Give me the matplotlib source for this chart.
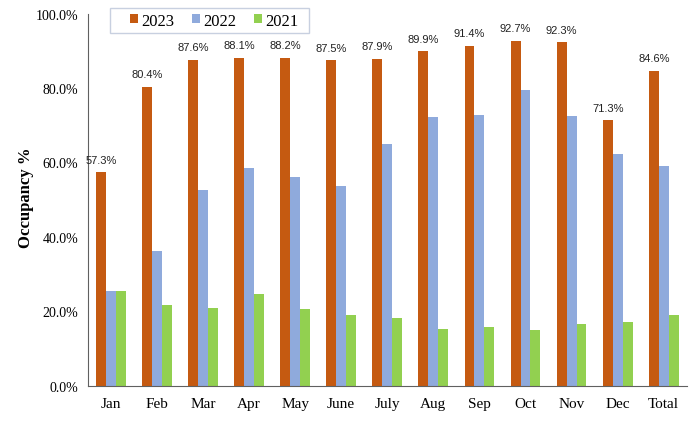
import matplotlib
matplotlib.use("Agg")
import matplotlib.pyplot as plt
from matplotlib.patches import Rectangle
import numpy as np

categories = ["Jan", "Feb", "Mar", "Apr", "May", "June", "July", "Aug", "Sep", "Oct", "Nov", "Dec", "Total"]
y2023 = [57.3, 80.4, 87.6, 88.1, 88.2, 87.5, 87.9, 89.9, 91.4, 92.7, 92.3, 71.3, 84.6]
y2022 = [25.5, 36.3, 52.5, 58.5, 56.2, 53.7, 64.9, 72.1, 72.7, 79.5, 72.4, 62.2, 59.1]
y2021 = [25.5, 21.7, 20.8, 24.6, 20.5, 19.0, 18.1, 15.2, 15.8, 15.0, 16.6, 17.1, 19.1]
series_names = ["2023", "2022", "2021"]
colors = ["#C55A11", "#8FAADC", "#92D050"]

W, H = 699, 431
fig = plt.figure(figsize=(6.99, 4.31), dpi=100)
ax = fig.add_axes([0.1255, 0.103, 0.857, 0.863])

x = np.arange(len(categories))
w = 0.215
for i, (vals, name, c) in enumerate(zip([y2023, y2022, y2021], series_names, colors)):
    ax.bar(x + (i - 1) * w, vals, w, color=c, label=name)
    if i == 0:
        for xi, v in zip(x + (i - 1) * w, vals):
            ax.text(xi, v + 2.0, f"{v:.1f}%", ha="center", va="bottom",
                    fontsize=8, family="Liberation Sans", color="#222222")

ax.set_xlim(-0.5, len(categories) - 0.5)
ax.set_ylim(0, 100)
ax.set_yticks(np.arange(0, 101, 20))
ax.set_yticklabels([f"{v:.1f}%" for v in np.arange(0, 101, 20)], family="Liberation Serif", fontsize=10)
ax.set_xticks(x)
ax.set_xticklabels(categories, family="Liberation Serif", fontsize=11)
ax.tick_params(axis="x", length=0, pad=8)
ax.tick_params(axis="y", length=0, pad=7)
for s in ["top", "right"]:
    ax.spines[s].set_visible(False)
for s in ["left", "bottom"]:
    ax.spines[s].set_color("#606060")
ax.set_ylabel("Occupancy %", family="Liberation Serif", fontsize=12, fontweight="bold")
ax.yaxis.set_label_coords(-(87.7 - 34) / 599, (386.7 - 198) / 372)

# legend frame
fig.patches.append(Rectangle((110 / W, 1 - 34 / H), 199 / W, 25 / H, transform=fig.transFigure,
                             facecolor="white", edgecolor="#C8D0E0", linewidth=1.0, zorder=5))
leg = fig.legend(loc="center left", bbox_to_anchor=(130 / W, 1 - 21.5 / H), ncol=3,
                 prop={"family": "Liberation Serif", "size": 12}, frameon=False,
                 handlelength=0.48, handleheight=0.48, handletextpad=0.2,
                 columnspacing=1.05, borderpad=0.0, borderaxespad=0)
leg.set_zorder(6)

fig.savefig("out.png", dpi=100)
